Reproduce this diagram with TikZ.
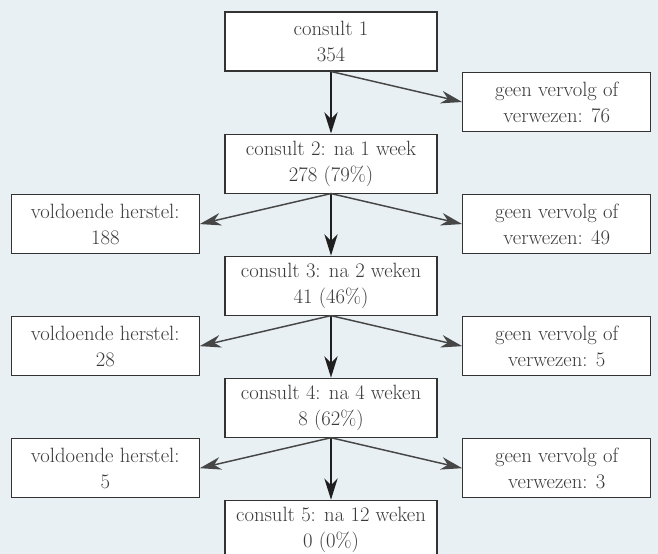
\documentclass[tikz,border=0pt]{standalone}
\usepackage{xcolor}
\usepackage{tikz}
\usetikzlibrary{arrows.meta,positioning}
\definecolor{bgblue}{RGB}{232,240,243}
\definecolor{boxline}{RGB}{51,51,51}
\definecolor{txtgray}{RGB}{58,58,58}
\definecolor{arrowgray}{RGB}{70,70,70}

\begin{document}
\begin{tikzpicture}[font=\fontsize{15.5pt}{19.5pt}\selectfont, node distance=0pt]
  \tikzset{box/.style={draw=boxline,line width=0.8pt,fill=white,text=txtgray,minimum width=#1,minimum height=44.25pt,inner sep=1pt,align=center},
    down/.style={-{Stealth[length=16pt,width=10pt,inset=5pt]},line width=1.1pt,black!88},
    side/.style={-{Stealth[length=16pt,width=9.5pt,inset=5pt]},line width=1.1pt,arrowgray}}
  \useasboundingbox (-248.25pt,31.1pt) rectangle (245.25pt,-384.4pt);
  \fill[bgblue] (-248.25pt,31.1pt) rectangle (245.25pt,-384.4pt);
  % main column
  \node[box=159pt] at (0,0) (c1) {consult 1\\354};
  \node[box=159pt, below=46.5pt of c1] (c2) {consult 2: na 1 week\\278 (79\%)};
  \node[box=159pt, below=46.5pt of c2] (c3) {consult 3: na 2 weken\\41 (46\%)};
  \node[box=159pt, below=46.5pt of c3] (c4) {consult 4: na 4 weken\\8 (62\%)};
  \node[box=159pt, below=46.5pt of c4] (c5) {consult 5: na 12 weken\\0 (0\%)};
  % side boxes
  \node[box=141pt, right=18.5pt of c1, yshift=-45.4pt] (v1) {geen vervolg of\\verwezen: 76};
  \node[box=141pt, right=18.5pt of c2, yshift=-45.4pt] (v2) {geen vervolg of\\verwezen: 49};
  \node[box=141pt, right=18.5pt of c3, yshift=-45.4pt] (v3) {geen vervolg of\\verwezen: 5};
  \node[box=141pt, right=18.5pt of c4, yshift=-45.4pt] (v4) {geen vervolg of\\verwezen: 3};
  \node[box=141pt, left=18.5pt of c2, yshift=-45.4pt] (h2) {voldoende herstel:\\188};
  \node[box=141pt, left=18.5pt of c3, yshift=-45.4pt] (h3) {voldoende herstel:\\28};
  \node[box=141pt, left=18.5pt of c4, yshift=-45.4pt] (h4) {voldoende herstel:\\5};
  % arrows
  \draw[down] (c1.south)--(c2.north); \draw[down] (c2.south)--(c3.north);
  \draw[down] (c3.south)--(c4.north); \draw[down] (c4.south)--(c5.north);
  \draw[side] (c1.south)--(v1.west);
  \draw[side] (c2.south)--(h2.east); \draw[side] (c2.south)--(v2.west);
  \draw[side] (c3.south)--(h3.east); \draw[side] (c3.south)--(v3.west);
  \draw[side] (c4.south)--(h4.east); \draw[side] (c4.south)--(v4.west);
\end{tikzpicture}
\end{document}
